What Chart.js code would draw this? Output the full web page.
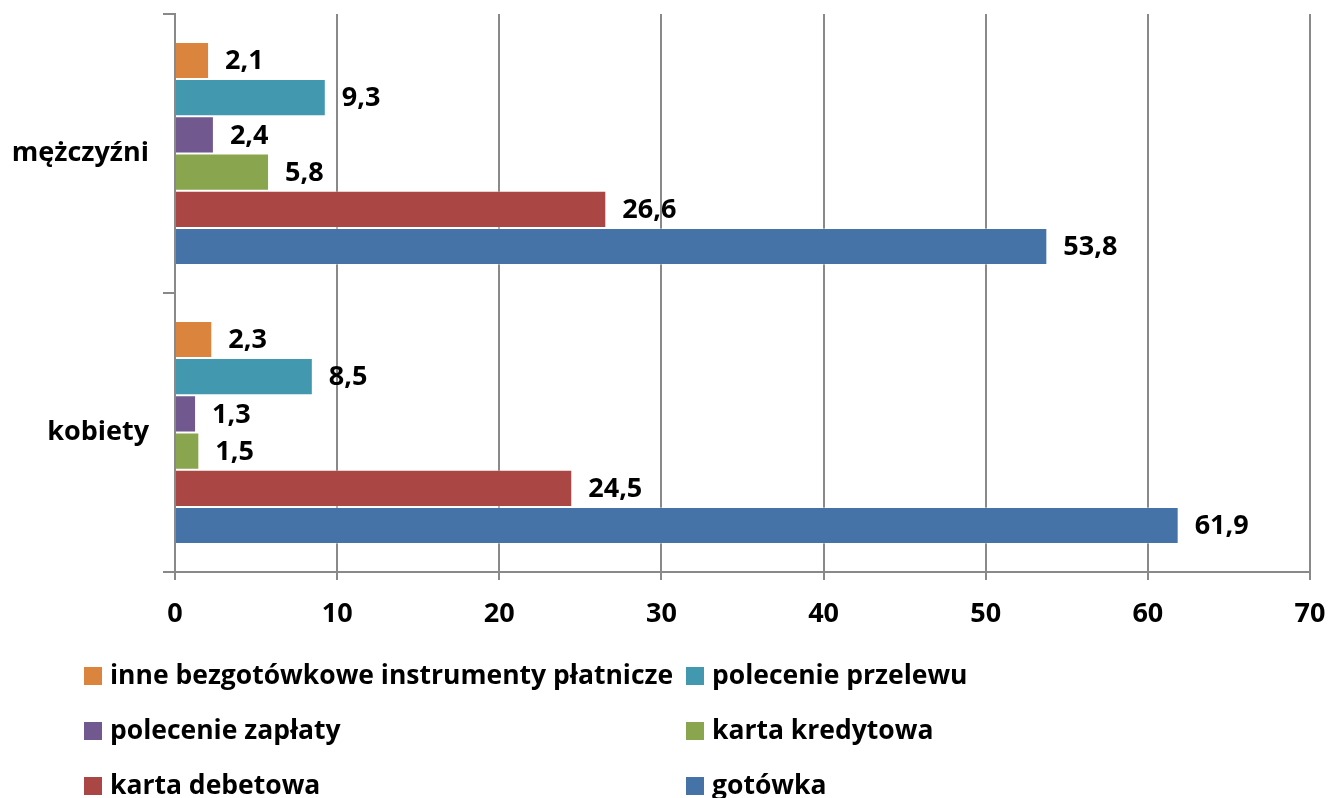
<!DOCTYPE html>
<html>
<head>
<meta charset="utf-8">
<script src="https://cdn.jsdelivr.net/npm/chart.js@4/dist/chart.umd.min.js"></script>
<style>
  html, body { margin: 0; padding: 0; background: #fff; }
  #wrap { position: relative; width: 1330px; height: 798px; overflow: hidden; }
  #legend { position: absolute; left: 0; top: 0; width: 1330px; height: 798px; pointer-events: none;
            font-family: 'Open Sans', sans-serif; font-weight: 700; font-size: 26.5px; color: #000; }
  .item { position: absolute; white-space: nowrap; line-height: 27px; }
  .box { position: absolute; width: 18px; height: 18px; }
</style>
</head>
<body>
<div id="wrap">
  <canvas id="chart" width="1330" height="798"></canvas>
  <div id="legend"></div>
</div>
<script>
// dane
const categories = ['mężczyźni', 'kobiety'];
const seriesNames = [
    'inne bezgotówkowe instrumenty płatnicze',
    'polecenie przelewu',
    'polecenie zapłaty',
    'karta kredytowa',
    'karta debetowa',
    'gotówka'
];
const inne      = [2.1, 2.3];
const przelew   = [9.3, 8.5];
const zaplaty   = [2.4, 1.3];
const kredytowa = [5.8, 1.5];
const debetowa  = [26.6, 24.5];
const gotowka   = [53.8, 61.9];
const xTicks = [0, 10, 20, 30, 40, 50, 60, 70];

const colors = ['#DB843D', '#4198AF', '#71588F', '#89A54E', '#AA4643', '#4572A7'];
const values = [inne, przelew, zaplaty, kredytowa, debetowa, gotowka];

const FONT = "'Open Sans'";
const FSIZE = 27;
const FWEIGHT = 700;
const gridColor = '#898989';

// etykiety wartości przy słupkach
const valueLabels = {
    id: 'valueLabels',
    afterDatasetsDraw(chart) {
        const ctx = chart.ctx;
        ctx.save();
        ctx.font = FWEIGHT + ' ' + FSIZE + 'px ' + FONT;
        ctx.fillStyle = '#000';
        ctx.textBaseline = 'middle';
        ctx.textAlign = 'left';
        chart.data.datasets.forEach((ds, i) => {
            chart.getDatasetMeta(i).data.forEach((el, j) => {
                const txt = ds.data[j].toFixed(1).replace('.', ',');
                ctx.fillText(txt, el.x + 16, el.y + 1);
            });
        });
        ctx.restore();
    }
};

new Chart(document.getElementById('chart'), {
    type: 'bar',
    data: {
        labels: categories,
        datasets: seriesNames.map((name, i) => ({
            label: name,
            data: values[i],
            backgroundColor: colors[i],
            borderColor: 'rgba(255,255,255,0.35)',
            borderWidth: 1,
            barPercentage: 1,
            categoryPercentage: 0.8
        }))
    },
    options: {
        indexAxis: 'y',
        responsive: false,
        animation: false,
        layout: { padding: { top: 14, right: 0, left: 0, bottom: 0 } },
        plugins: {
            legend: { display: false },
            tooltip: { enabled: false }
        },
        scales: {
            x: {
                min: 0,
                max: 70,
                afterBuildTicks: (s) => { s.ticks = xTicks.map(v => ({ value: v })); },
                afterFit: (s) => { s.height = 226; s.paddingLeft = 0; s.paddingRight = 20; },
                grid: { color: gridColor, lineWidth: 2, tickLength: 8, drawTicks: true },
                border: { color: gridColor, width: 2 },
                ticks: {
                    color: '#000',
                    padding: 18,
                    font: { family: FONT, size: FSIZE, weight: FWEIGHT }
                }
            },
            y: {
                afterFit: (s) => { s.width = 175; s.paddingTop = 0; s.paddingBottom = 0; },
                grid: { display: true, drawOnChartArea: false, offset: true, tickLength: 12, color: gridColor, lineWidth: 2 },
                border: { color: gridColor, width: 2 },
                ticks: {
                    color: '#000',
                    padding: 14,
                    font: { family: FONT, size: FSIZE, weight: FWEIGHT }
                }
            }
        }
    },
    plugins: [valueLabels]
});

// legenda w dwóch kolumnach
const legend = document.getElementById('legend');
const colX = [84, 686];
const rowY = [667, 722, 777];
seriesNames.forEach((name, i) => {
    const cx = colX[i % 2], cy = rowY[Math.floor(i / 2)];
    const box = document.createElement('div');
    box.className = 'box';
    box.style.left = cx + 'px';
    box.style.top = cy + 'px';
    box.style.background = colors[i];
    legend.appendChild(box);
    const t = document.createElement('div');
    t.className = 'item';
    t.style.left = (cx + 26) + 'px';
    t.style.top = (cy - 6) + 'px';
    t.textContent = name;
    legend.appendChild(t);
});
</script>
</body>
</html>
